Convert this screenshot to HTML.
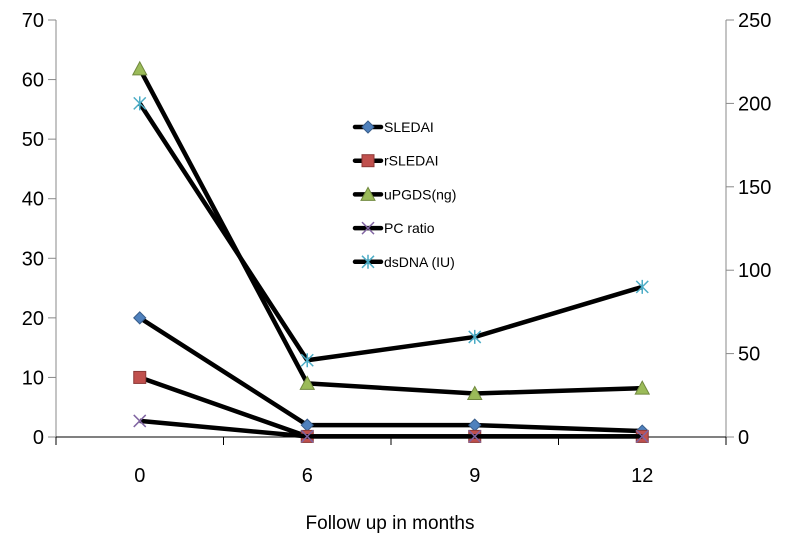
<!DOCTYPE html>
<html><head><meta charset="utf-8"><style>
body{margin:0;background:#fff;}
svg text{font-family:"Liberation Sans",sans-serif;fill:#000;}
</style></head><body>
<svg id="chart" width="793" height="538" viewBox="0 0 793 538" xmlns="http://www.w3.org/2000/svg">
<g id="axes"></g><g id="series"></g><g id="legend"></g>
<text x="390" y="529" font-size="19" text-anchor="middle">Follow up in months</text>
</svg>
<script>
const categories = ["0","6","9","12"];
const seriesNames = ["SLEDAI","rSLEDAI","uPGDS(ng)","PC ratio","dsDNA (IU)"];
const sledai = [20, 2, 2, 1];
const rsledai = [10, 0.1, 0.1, 0.1];
const upgds = [61.8, 9, 7.3, 8.2];
const pcRatio = [2.7, 0.1, 0.1, 0.1];
const dsdna = [200, 46, 60, 90];
const leftTicks = [0,10,20,30,40,50,60,70];
const rightTicks = [0,50,100,150,200,250];

const NS="http://www.w3.org/2000/svg";
const X0=56, X1=726, Y0=437, Y1=20;
const xPos=i=>X0+(X1-X0)/categories.length*(i+0.5);
const yL=v=>Y0-(Y0-Y1)*v/70;
const yR=v=>Y0-(Y0-Y1)*v/250;
function mk(tag,attrs,parent){const e=document.createElementNS(NS,tag);for(const k in attrs)e.setAttribute(k,attrs[k]);parent.appendChild(e);return e;}
const axes=document.getElementById('axes'), ser=document.getElementById('series'), leg=document.getElementById('legend');

let a=mk('line',{x1:X0,y1:Y1,x2:X0,y2:Y0,stroke:'#888','stroke-width':1},axes);

a=mk('line',{x1:X1,y1:Y1,x2:X1,y2:Y0,stroke:'#888','stroke-width':1},axes);

a=mk('line',{x1:X0,y1:Y0,x2:X1,y2:Y0,stroke:'#000','stroke-width':1},axes);

leftTicks.forEach(v=>{
  mk('line',{x1:X0-8,y1:yL(v),x2:X0,y2:yL(v),stroke:'#888'},axes);
  const t=mk('text',{x:X0-12,y:yL(v)+7,'font-size':20,'text-anchor':'end'},axes);t.textContent=v;
  
});
rightTicks.forEach(v=>{
  mk('line',{x1:X1,y1:yR(v),x2:X1+8,y2:yR(v),stroke:'#888'},axes);
  const t=mk('text',{x:X1+12,y:yR(v)+7,'font-size':20},axes);t.textContent=v;
  
});
for(let i=0;i<=categories.length;i++){const x=X0+(X1-X0)/categories.length*i;mk('line',{x1:x,y1:Y0,x2:x,y2:Y0+8,stroke:'#000'},axes);}
categories.forEach((c,i)=>{const t=mk('text',{x:xPos(i),y:Y0+45,'font-size':20,'text-anchor':'middle'},axes);t.textContent=c;
  });

function marker(kind,x,y,g){
  if(kind==='diamond')mk('polygon',{points:`${x},${y-6} ${x+6},${y} ${x},${y+6} ${x-6},${y}`,fill:'#4f81bd',stroke:'#385d8a'},g);
  else if(kind==='square')mk('rect',{x:x-6,y:y-6,width:12,height:12,fill:'#c0504d',stroke:'#8c3836'},g);
  else if(kind==='triangle')mk('polygon',{points:`${x},${y-7} ${x+7},${y+6} ${x-7},${y+6}`,fill:'#9bbb59',stroke:'#71893f'},g);
  else if(kind==='x'){mk('path',{d:`M${x-6} ${y-6}L${x+6} ${y+6}M${x-6} ${y+6}L${x+6} ${y-6}`,stroke:'#8064a2','stroke-width':1.5},g);}
  else {mk('path',{d:`M${x-6} ${y-6}L${x+6} ${y+6}M${x-6} ${y+6}L${x+6} ${y-6}M${x} ${y-7}L${x} ${y+7}`,stroke:'#4bacc6','stroke-width':1.5},g);}
}
const defs=[[sledai,yL,'diamond','series-sledai'],[rsledai,yL,'square','series-rsledai'],[upgds,yL,'triangle','series-upgds'],[pcRatio,yL,'x','series-pc-ratio'],[dsdna,yR,'star','series-dsdna']];
defs.forEach(([vals,sc,kind,name])=>{
  const g=mk('g',{},ser);
  
  
  mk('polyline',{points:vals.map((v,i)=>xPos(i)+','+sc(v)).join(' '),fill:'none',stroke:'#000','stroke-width':4.5,'stroke-linejoin':'round'},g);
  vals.forEach((v,i)=>marker(kind,xPos(i),sc(v),g));
});
seriesNames.forEach((n,i)=>{
  const y=127+i*33.7;
  const g=mk('g',{},leg);
  
  
  mk('line',{x1:355,y1:y,x2:381,y2:y,stroke:'#000','stroke-width':4.5,'stroke-linecap':'round'},g);
  marker(defs[i][2],368,y,g);
  const t=mk('text',{x:384,y:y+5,'font-size':14},g);t.textContent=n;
});
</script>
</body></html>
